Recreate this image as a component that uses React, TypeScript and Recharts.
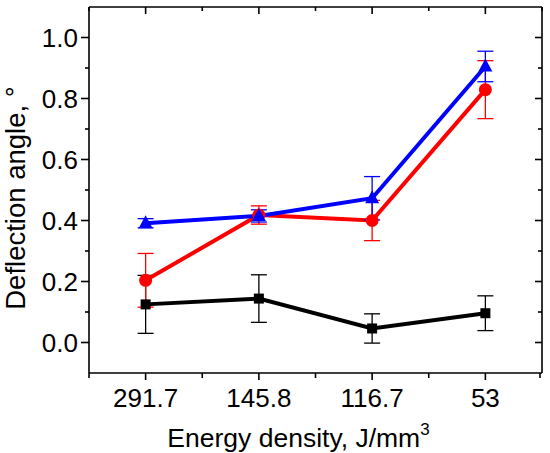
import React from 'react';
import { LineChart, Line, XAxis, YAxis, ErrorBar, Legend, Label } from 'recharts';

const categories = ['291.7', '145.8', '116.7', '53'];
const asBuild = [0.125, 0.144, 0.046, 0.096];
const asBuildErr = [0.095, 0.078, 0.048, 0.057];
const releasedTop = [0.204, 0.418, 0.4, 0.829];
const releasedTopErr = [0.088, 0.03, 0.066, 0.095];
const releasedBottom = [0.391, 0.415, 0.473, 0.905];
const releasedBottomErr = [0.015, 0.02, 0.071, 0.05];

const xTicks = [0.5, 1, 1.5, 2, 2.5, 3, 3.5, 4, 4.5];
const yTicks = [0, 0.1, 0.2, 0.3, 0.4, 0.5, 0.6, 0.7, 0.8, 0.9, 1.0];
const xDomain = [0.5, 4.5];
const yDomain = [-0.1, 1.1];

const data = categories.map((c, i) => ({
  x: i + 1,
  asBuild: asBuild[i],
  asBuildErr: asBuildErr[i],
  releasedTop: releasedTop[i],
  releasedTopErr: releasedTopErr[i],
  releasedBottom: releasedBottom[i],
  releasedBottomErr: releasedBottomErr[i],
}));

const W = 550;
const H = 453;
const LEFT = 89;
const RIGHT = 8;
const TOP = 7;
const BOTTOM = 80;
const PLOT_W = W - LEFT - RIGHT;
const PLOT_H = H - TOP - BOTTOM;

const FONT = "Arial, 'Liberation Sans', sans-serif";
const AXIS_W = 1.6;

const isMajorX = (v: number) => Number.isInteger(v);
const isMajorY = (v: number) => Math.round(v * 10) % 2 === 0;

const BottomTick = (props: any) => {
  const { x, y, payload } = props;
  const major = isMajorX(payload.value);
  return (
    <g>
      <line x1={x} x2={x} y1={y} y2={y + (major ? 7 : 5)} stroke="#000" strokeWidth={AXIS_W} />
      {major && (
        <text x={x} y={y + 34} textAnchor="middle" fontSize={26} fontFamily={FONT} fill="#000">
          {categories[payload.value - 1]}
        </text>
      )}
    </g>
  );
};

const LeftTick = (props: any) => {
  const { x, y, payload } = props;
  const major = isMajorY(payload.value);
  return (
    <g>
      <line x1={x} x2={x - (major ? 8 : 4)} y1={y} y2={y} stroke="#000" strokeWidth={AXIS_W} />
      {major && (
        <text x={x - 11} y={y + 9} textAnchor="end" fontSize={26} fontFamily={FONT} fill="#000">
          {payload.value.toFixed(1)}
        </text>
      )}
    </g>
  );
};

const XTitle = (props: any) => {
  const { viewBox } = props;
  return (
    <text
      x={viewBox.x + viewBox.width / 2 - 17}
      y={viewBox.y + 74}
      textAnchor="middle"
      fontSize={26.5}
      fontFamily={FONT}
      fill="#000"
    >
      Energy density, J/mm
      <tspan dy={-12} fontSize={17}>3</tspan>
    </text>
  );
};

const YTitle = () => (
  <text
    x={25}
    y={198}
    transform="rotate(-90, 25, 198)"
    textAnchor="middle"
    fontSize={27.5}
    fontFamily={FONT}
    fill="#000"
  >
    Deflection angle, °
  </text>
);

const Square = (props: any) => (
  <rect x={props.cx - 5} y={props.cy - 5} width={10} height={10} fill="#000" />
);
const Circle = (props: any) => <circle cx={props.cx} cy={props.cy} r={6.5} fill="#ff0000" />;
const Triangle = (props: any) => {
  const { cx, cy } = props;
  return <polygon points={`${cx},${cy - 8} ${cx - 7},${cy + 5} ${cx + 7},${cy + 5}`} fill="#0000ff" />;
};

const legendItems = [
  { name: 'as build', color: '#000000', marker: 'square' },
  { name: 'Released top', color: '#ff0000', marker: 'circle' },
  { name: 'Released bottom', color: '#0000ff', marker: 'triangle' },
];

const LegendBox = () => (
  <div
    style={{
      width: 194,
      height: 70,
      border: '1.5px solid #000',
      background: '#fff',
      fontFamily: FONT,
      fontSize: 18.5,
      lineHeight: '23px',
      paddingTop: 1,
      boxSizing: 'content-box',
    }}
  >
    {legendItems.map((it) => (
      <div key={it.name} style={{ display: 'flex', alignItems: 'center', height: 23 }}>
        <svg width={48} height={20} style={{ marginRight: 2 }}>
          <line x1={2} x2={46} y1={10} y2={10} stroke={it.color} strokeWidth={4} />
          {it.marker === 'square' && <rect x={19} y={5} width={10} height={10} fill={it.color} />}
          {it.marker === 'circle' && <circle cx={24} cy={10} r={6.5} fill={it.color} />}
          {it.marker === 'triangle' && <polygon points="24,2 17,15 31,15" fill={it.color} />}
        </svg>
        <span>{it.name}</span>
      </div>
    ))}
  </div>
);

// top and right sides of the box frame, with inward ticks mirroring the axes
const toX = (v: number) => LEFT + ((v - xDomain[0]) / (xDomain[1] - xDomain[0])) * PLOT_W;
const toY = (v: number) => TOP + ((yDomain[1] - v) / (yDomain[1] - yDomain[0])) * PLOT_H;

const FrameOverlay = () => (
  <svg
    width={W}
    height={H}
    style={{ position: 'absolute', left: 0, top: 0, pointerEvents: 'none', overflow: 'visible' }}
  >
    <line x1={LEFT} x2={LEFT + PLOT_W} y1={TOP} y2={TOP} stroke="#000" strokeWidth={AXIS_W} />
    <line x1={LEFT + PLOT_W} x2={LEFT + PLOT_W} y1={TOP} y2={TOP + PLOT_H} stroke="#000" strokeWidth={AXIS_W} />
    {xTicks.map((v) => (
      <line
        key={`tx${v}`}
        x1={toX(v)}
        x2={toX(v)}
        y1={TOP}
        y2={TOP + (isMajorX(v) ? 7 : 4)}
        stroke="#000"
        strokeWidth={AXIS_W}
      />
    ))}
    {yTicks.map((v) => (
      <line
        key={`ty${v}`}
        x1={LEFT + PLOT_W}
        x2={LEFT + PLOT_W - (isMajorY(v) ? 7 : 4)}
        y1={toY(v)}
        y2={toY(v)}
        stroke="#000"
        strokeWidth={AXIS_W}
      />
    ))}
  </svg>
);

export default function App() {
  return (
    <div style={{ position: 'absolute', left: 0, top: 0, width: W, height: H, background: '#fff' }}>
      <LineChart width={W} height={H} data={data} margin={{ top: TOP, right: RIGHT, bottom: 0, left: 0 }}>
        <XAxis
          dataKey="x"
          type="number"
          domain={xDomain}
          ticks={xTicks}
          height={BOTTOM}
          tickLine={false}
          tickSize={0}
          tickMargin={0}
          tick={BottomTick}
          axisLine={{ stroke: '#000', strokeWidth: AXIS_W }}
        >
          <Label content={XTitle} />
        </XAxis>
        <YAxis
          type="number"
          domain={yDomain}
          ticks={yTicks}
          width={LEFT}
          tickLine={false}
          tickSize={0}
          tickMargin={0}
          tick={LeftTick}
          axisLine={{ stroke: '#000', strokeWidth: AXIS_W }}
        >
          <Label content={YTitle} />
        </YAxis>
        <Line
          dataKey="asBuild"
          stroke="#000000"
          strokeWidth={4}
          dot={Square}
          activeDot={false}
          isAnimationActive={false}
        >
          <ErrorBar dataKey="asBuildErr" direction="y" width={8} strokeWidth={1.3} stroke="#000000" />
        </Line>
        <Line
          dataKey="releasedTop"
          stroke="#ff0000"
          strokeWidth={4}
          dot={Circle}
          activeDot={false}
          isAnimationActive={false}
        >
          <ErrorBar dataKey="releasedTopErr" direction="y" width={8} strokeWidth={1.3} stroke="#ff0000" />
        </Line>
        <Line
          dataKey="releasedBottom"
          stroke="#0000ff"
          strokeWidth={4}
          dot={Triangle}
          activeDot={false}
          isAnimationActive={false}
        >
          <ErrorBar dataKey="releasedBottomErr" direction="y" width={8} strokeWidth={1.3} stroke="#0000ff" />
        </Line>
      </LineChart>
      <FrameOverlay />
      <div style={{ position: 'absolute', left: LEFT, top: TOP }}>
        <Legend content={<LegendBox />} />
      </div>
    </div>
  );
}
